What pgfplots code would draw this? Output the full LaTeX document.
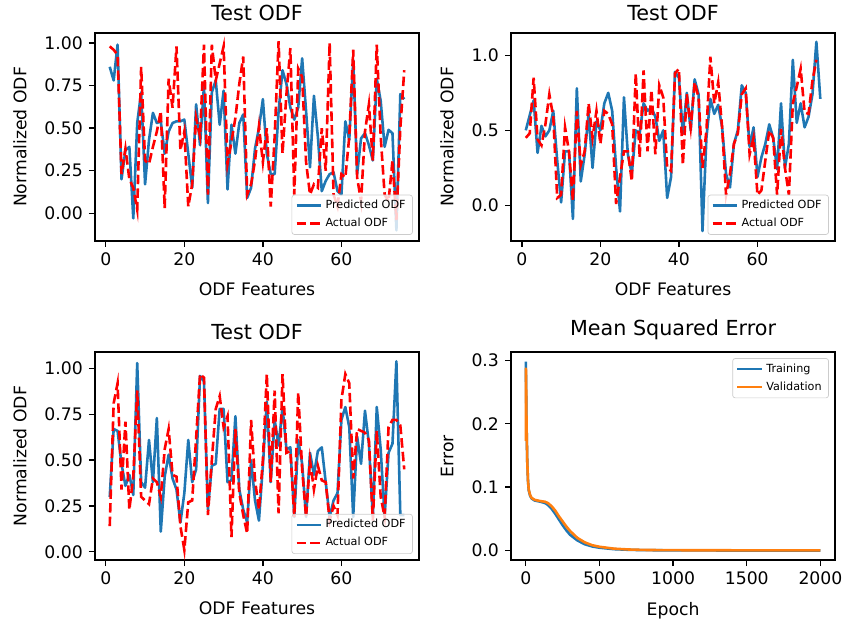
\documentclass[border=0pt]{standalone}
\usepackage{fontspec}
\setmainfont{DejaVu Sans}
\usepackage{pgfplots}
\pgfplotsset{compat=1.18}
\definecolor{mblue}{HTML}{1F77B4}
\definecolor{morange}{HTML}{FF7F0E}
\pgfplotsset{
 mystyle/.style={
  scale only axis, width=187.9pt, height=120.6pt, anchor=south west,
  axis line style={line width=0.8pt},
  every tick/.style={line width=0.8pt, black},
  tick align=outside, major tick length=3.5pt,
  xtick pos=left, ytick pos=left,
  ticklabel style={font=\fontsize{10}{12}\selectfont},
  label style={font=\fontsize{10}{12}\selectfont},
  xlabel style={yshift=-3pt},
  ylabel style={yshift=3.5pt},
  title style={font=\fontsize{12}{14}\selectfont, yshift=-2.5pt},
  /pgf/number format/assume math mode=true,
  /pgf/number format/1000 sep={},
  legend cell align=left,
  legend image code/.code={\draw[#1] (0pt,0pt) -- (14pt,0pt);},
  legend style={font=\fontsize{6.5}{7.5}\selectfont, draw=black!20, rounded corners=1.5pt,
    fill=white, fill opacity=0.8, text opacity=1, inner xsep=2pt, inner ysep=1pt,
    /tikz/every even column/.append style={column sep=2pt}},
 },
 odf/.style={mystyle, xmin=-2.75, xmax=79.75, xtick={0,20,40,60},
  title={Test ODF}, xlabel={ODF Features}, ylabel={Normalized ODF},
  legend style={at={(0.981,0.029)}, anchor=south east}},
 pred/.style={color=mblue, line width=1.5pt, line join=round},
 act/.style={color=red, line width=1.5pt, dash pattern=on 5.5pt off 2.4pt},
}
\begin{document}
\begin{tikzpicture}
\path[use as bounding box] (0,0) rectangle (492.4pt,361.3pt);
% Plot 1
\begin{axis}[odf, at={(55.1pt,221.6pt)}, ymin=-0.162, ymax=1.059,
  ytick={0,0.25,0.5,0.75,1}, yticklabel style={/pgf/number format/.cd, fixed, fixed zerofill, precision=2}]
\addplot[pred] coordinates {(1,0.86)(2,0.78)(3,0.99)(4,0.20)(5,0.37)(6,0.39)(7,-0.03)(8,0.53)(9,0.71)(10,0.17)(11,0.43)(12,0.59)(13,0.53)(14,0.54)(15,0.35)(16,0.48)(17,0.53)(18,0.54)(19,0.54)(20,0.55)(21,0.35)(22,0.15)(23,0.64)(24,0.40)(25,0.75)(26,0.06)(27,0.71)(28,0.78)(29,0.52)(30,0.72)(31,0.14)(32,0.52)(33,0.35)(34,0.53)(35,0.58)(36,0.09)(37,0.15)(38,0.38)(39,0.50)(40,0.67)(41,0.35)(42,0.23)(43,0.23)(44,0.60)(45,0.84)(46,0.76)(47,0.62)(48,0.55)(49,0.62)(50,0.91)(51,0.60)(52,0.27)(53,0.69)(54,0.45)(55,0.13)(56,0.19)(57,0.23)(58,0.24)(59,0.13)(60,0.11)(61,0.54)(62,0.43)(63,0.90)(64,0.23)(65,0.44)(66,0.47)(67,0.40)(68,0.31)(69,0.79)(70,0.66)(71,0.39)(72,0.49)(73,0.47)(74,-0.10)(75,0.70)(76,0.67)};
\addlegendentry{Predicted ODF}
\addplot[act] coordinates {(1,0.98)(2,0.96)(3,0.93)(4,0.23)(5,0.38)(6,0.20)(7,0.15)(8,0.02)(9,0.86)(10,0.31)(11,0.29)(12,0.39)(13,0.48)(14,0.60)(15,0.03)(16,0.79)(17,0.62)(18,0.98)(19,0.37)(20,0.48)(21,0.04)(22,0.17)(23,0.56)(24,0.45)(25,0.99)(26,0.11)(27,0.99)(28,0.78)(29,0.88)(30,0.98)(31,0.29)(32,0.42)(33,0.56)(34,0.76)(35,0.92)(36,0.11)(37,0.17)(38,0.31)(39,0.51)(40,0.30)(41,0.50)(42,0.04)(43,0.45)(44,1.01)(45,0.35)(46,0.70)(47,0.97)(48,0.11)(49,0.85)(50,0.80)(51,0.30)(52,0.11)(53,0.17)(54,0.15)(55,0.50)(56,0.25)(57,1.00)(58,0.11)(59,0.04)(60,0.23)(61,0.21)(62,0.45)(63,0.96)(64,0.21)(65,0.07)(66,0.48)(67,0.64)(68,0.31)(69,0.99)(70,0.45)(71,0.11)(72,0.07)(73,0.31)(74,-0.04)(75,0.50)(76,0.84)};
\addlegendentry{Actual ODF}
\end{axis}
% Plot 2
\begin{axis}[odf, at={(296.4pt,221.6pt)}, ymin=-0.236, ymax=1.149,
  ytick={0,0.5,1}, yticklabel style={/pgf/number format/.cd, fixed, fixed zerofill, precision=1}]
\addplot[pred] coordinates {(1,0.50)(2,0.60)(3,0.70)(4,0.35)(5,0.53)(6,0.46)(7,0.50)(8,0.63)(9,0.30)(10,0.02)(11,0.36)(12,0.36)(13,-0.09)(14,0.78)(15,0.16)(16,0.34)(17,0.61)(18,0.25)(19,0.56)(20,0.50)(21,0.68)(22,0.75)(23,0.63)(24,0.25)(25,-0.04)(26,0.72)(27,0.34)(28,0.21)(29,0.50)(30,0.48)(31,0.68)(32,0.63)(33,0.65)(34,0.59)(35,0.43)(36,0.50)(37,0.05)(38,0.19)(39,0.89)(40,0.85)(41,0.48)(42,0.75)(43,0.50)(44,0.84)(45,0.74)(46,-0.17)(47,0.45)(48,0.71)(49,0.61)(50,0.67)(51,0.52)(52,0.21)(53,0.12)(54,0.41)(55,0.50)(56,0.80)(57,0.75)(58,0.39)(59,0.52)(60,0.19)(61,0.32)(62,0.41)(63,0.54)(64,0.45)(65,0.24)(66,0.68)(67,0.25)(68,0.41)(69,0.97)(70,0.55)(71,0.68)(72,0.52)(73,0.59)(74,0.74)(75,1.09)(76,0.71)};
\addlegendentry{Predicted ODF}
\addplot[act] coordinates {(1,0.45)(2,0.48)(3,0.85)(4,0.44)(5,0.40)(6,0.54)(7,0.74)(8,0.59)(9,0.05)(10,0.07)(11,0.52)(12,0.36)(13,0.03)(14,0.63)(15,0.27)(16,0.36)(17,0.68)(18,0.45)(19,0.63)(20,0.41)(21,0.63)(22,0.61)(23,0.54)(24,0.01)(25,0.19)(26,0.36)(27,0.36)(28,0.16)(29,0.88)(30,0.32)(31,0.90)(32,0.36)(33,0.77)(34,0.34)(35,0.80)(36,0.72)(37,0.25)(38,0.23)(39,0.88)(40,0.91)(41,0.27)(42,0.74)(43,0.52)(44,0.82)(45,0.72)(46,0.25)(47,0.50)(48,0.99)(49,0.68)(50,0.82)(51,0.52)(52,0.07)(53,0.21)(54,0.41)(55,0.48)(56,0.74)(57,0.78)(58,0.34)(59,0.45)(60,0.07)(61,0.10)(62,0.30)(63,0.50)(64,0.45)(65,0.07)(66,0.51)(67,0.25)(68,0.07)(69,0.68)(70,0.79)(71,0.91)(72,0.62)(73,0.61)(74,0.83)(75,0.97)};
\addlegendentry{Actual ODF}
\end{axis}
% Plot 3
\begin{axis}[odf, at={(55.1pt,36.5pt)}, ymin=-0.045, ymax=1.09,
  ytick={0,0.25,0.5,0.75,1}, yticklabel style={/pgf/number format/.cd, fixed, fixed zerofill, precision=2}]
\addplot[pred] coordinates {(1,0.30)(2,0.67)(3,0.66)(4,0.48)(5,0.36)(6,0.42)(7,0.31)(8,1.03)(9,0.38)(10,0.35)(11,0.61)(12,0.38)(13,0.73)(14,0.11)(15,0.41)(16,0.53)(17,0.40)(18,0.34)(19,0.16)(20,0.32)(21,0.61)(22,0.38)(23,0.45)(24,0.96)(25,0.93)(26,0.23)(27,0.47)(28,0.48)(29,0.78)(30,0.78)(31,0.38)(32,0.39)(33,0.74)(34,0.34)(35,0.23)(36,0.16)(37,0.50)(38,0.28)(39,0.17)(40,0.47)(41,0.82)(42,0.38)(43,0.72)(44,0.58)(45,0.79)(46,0.56)(47,0.57)(48,0.19)(49,0.61)(50,0.48)(51,0.19)(52,0.54)(53,0.42)(54,0.55)(55,0.57)(56,0.38)(57,0.19)(58,0.28)(59,0.32)(60,0.72)(61,0.79)(62,0.68)(63,0.19)(64,0.63)(65,0.48)(66,0.77)(67,0.59)(68,0.19)(69,0.79)(70,0.56)(71,0.19)(72,0.54)(73,0.59)(74,1.04)(75,0.20)(76,0.20)};
\addlegendentry{Predicted ODF}
\addplot[act] coordinates {(1,0.14)(2,0.81)(3,0.92)(4,0.34)(5,0.71)(6,0.23)(7,0.41)(8,0.88)(9,0.30)(10,0.28)(11,0.26)(12,0.40)(13,0.38)(14,0.30)(15,0.56)(16,0.67)(17,0.42)(18,0.41)(19,0.14)(20,0.01)(21,0.27)(22,0.28)(23,0.62)(24,0.97)(25,0.95)(26,0.20)(27,0.50)(28,0.78)(29,0.85)(30,0.68)(31,0.74)(32,0.08)(33,0.67)(34,0.32)(35,0.20)(36,0.10)(37,0.72)(38,0.39)(39,0.23)(40,0.50)(41,0.97)(42,0.38)(43,0.88)(44,0.21)(45,0.97)(46,0.54)(47,0.55)(48,0.19)(49,0.87)(50,0.45)(51,0.19)(52,0.50)(53,0.34)(54,0.47)(55,0.39)(56,0.38)(57,0.17)(58,0.25)(59,0.20)(60,0.83)(61,0.97)(62,0.92)(63,0.40)(64,0.67)(65,0.66)(66,0.65)(67,0.61)(68,0.17)(69,0.66)(70,0.30)(71,0.19)(72,0.68)(73,0.72)(74,0.72)(75,0.69)(76,0.45)};
\addlegendentry{Actual ODF}
\end{axis}
% Plot 4
\begin{axis}[mystyle, at={(296.4pt,36.5pt)}, xmin=-100, xmax=2099, ymin=-0.0149, ymax=0.313,
  xtick={0,500,1000,1500,2000}, ytick={0,0.1,0.2,0.3},
  yticklabel style={/pgf/number format/.cd, fixed, fixed zerofill, precision=1},
  title={Mean Squared Error}, xlabel={Epoch}, ylabel={Error},
  legend style={at={(0.981,0.971)}, anchor=north east}]
\addplot[color=mblue, line width=1.5pt, line join=round] coordinates {(0,0.298)(2,0.26)(5,0.20)(10,0.14)(15,0.11)(20,0.095)(30,0.086)(40,0.082)(60,0.079)(80,0.078)(100,0.077)(130,0.075)(150,0.072)(175,0.066)(200,0.058)(225,0.049)(250,0.040)(275,0.032)(300,0.025)(350,0.016)(400,0.010)(450,0.0065)(500,0.0045)(600,0.0022)(700,0.0012)(800,0.0007)(1000,0.0003)(1500,0.0001)(1999,0.0001)};
\addlegendentry{Training}
\addplot[color=morange, line width=1.5pt, line join=round] coordinates {(0,0.173)(1,0.287)(3,0.25)(5,0.20)(10,0.14)(15,0.11)(20,0.096)(30,0.087)(40,0.083)(60,0.080)(80,0.079)(100,0.078)(130,0.077)(150,0.075)(175,0.070)(200,0.063)(225,0.054)(250,0.046)(275,0.038)(300,0.031)(350,0.020)(400,0.013)(450,0.0085)(500,0.006)(600,0.003)(700,0.0017)(800,0.001)(1000,0.0006)(1500,0.0004)(1999,0.0004)};
\addlegendentry{Validation}
\end{axis}
\end{tikzpicture}
\end{document}
